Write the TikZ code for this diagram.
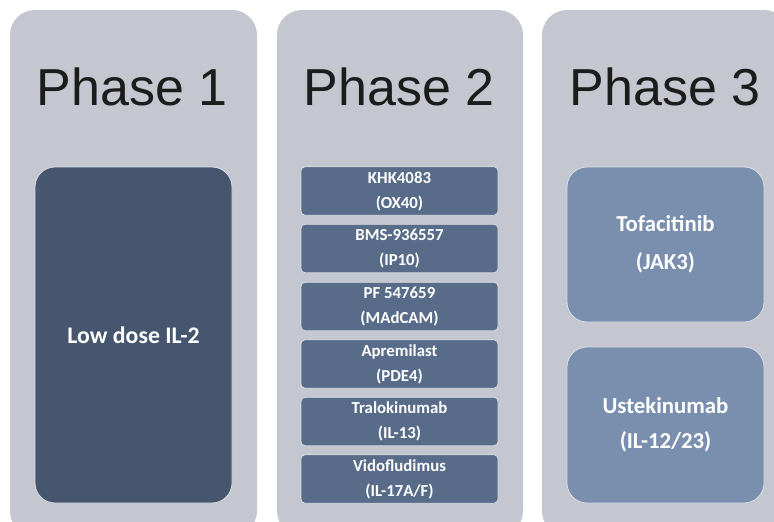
\documentclass[tikz,border=0pt]{standalone}
\usepackage{fontspec}
\setmainfont{Liberation Sans}
\newfontfamily\boxfont{Carlito}
\definecolor{colbg}{HTML}{C4C7CF}
\definecolor{p1fill}{HTML}{46566F}
\definecolor{p2fill}{HTML}{586C8A}
\definecolor{p3fill}{HTML}{7A8FAE}
\definecolor{boxedge}{HTML}{DADDE3}
\definecolor{titlecol}{HTML}{1C1C1C}
\tikzset{
  column/.style={fill=colbg, draw=none, rounded corners=25pt},
  title/.style={anchor=base, text=titlecol, inner sep=0pt,
    font=\fontsize{52}{60}\selectfont},
  bigbox/.style={draw=boxedge, line width=0.8pt, rounded corners=20pt,
    minimum width=197pt, text=white, align=center, inner sep=0pt},
  smallbox/.style={draw=boxedge, line width=0.8pt, rounded corners=4pt,
    fill=p2fill, minimum width=197pt, minimum height=48.5pt, text=white,
    align=center, inner sep=0pt,
    font=\boxfont\bfseries\fontsize{16.8}{25}\selectfont},
}
\begin{document}
\begin{tikzpicture}[x=1pt, y=-1pt]
  \useasboundingbox (0,0) rectangle (774,522);
  \clip (0,0) rectangle (774,522);
  % three phase columns (running off the bottom edge)
  \fill[column] (10,10) rectangle (257,536);
  \fill[column] (277,10) rectangle (523,536);
  \fill[column] (542,10) rectangle (789,536);
  % column titles
  \node[title] (t1) at (132,105) {Phase 1};
  \node[title] (t2) at (399,105) {Phase 2};
  \node[title] (t3) at (665,105) {Phase 3};
  % phase 1
  \node[bigbox, fill=p1fill, minimum height=336pt,
    font=\boxfont\bfseries\fontsize{23.8}{28}\selectfont] (lowdose) at (133.5,335) {Low dose IL-2};
  % phase 2
  \node[smallbox] (khk) at (399.5,191) {KHK4083\\(OX40)};
  \node[smallbox] (bms) at (399.5,248.5) {BMS-936557\\(IP10)};
  \node[smallbox] (pf) at (399.5,306.5) {PF 547659\\(MAdCAM)};
  \node[smallbox] (apr) at (399.5,364) {Apremilast\\(PDE4)};
  \node[smallbox] (tral) at (399.5,421.5) {Tralokinumab\\(IL-13)};
  \node[smallbox] (vido) at (399.5,479) {Vidofludimus\\(IL-17A/F)};
  % phase 3
  \node[bigbox, fill=p3fill, minimum height=155pt,
    font=\boxfont\bfseries\fontsize{22.8}{38}\selectfont] (tofa) at (665.5,244.5) {Tofacitinib\\(JAK3)};
  \node[bigbox, fill=p3fill, minimum height=156pt,
    font=\boxfont\bfseries\fontsize{22.8}{35}\selectfont] (uste) at (665.5,425) {Ustekinumab\\(IL-12/23)};
\end{tikzpicture}
\end{document}
